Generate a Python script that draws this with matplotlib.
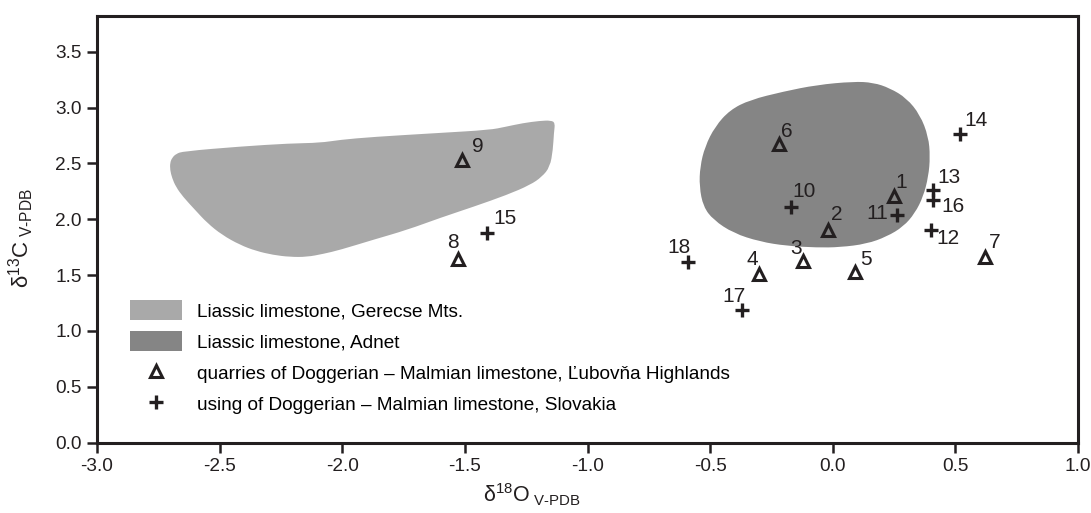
import matplotlib
matplotlib.use('Agg')
import matplotlib.pyplot as plt
from matplotlib.patches import PathPatch, Patch
from matplotlib.path import Path
from matplotlib.lines import Line2D

plt.rcParams['font.family'] = ['Liberation Sans', 'DejaVu Sans']
plt.rcParams['mathtext.fontset'] = 'custom'
plt.rcParams['mathtext.rm'] = 'Liberation Sans'
plt.rcParams['mathtext.it'] = 'Liberation Sans:italic'

# quarries (triangles), labels 1-9
tri_lbl = ['1', '2', '3', '4', '5', '6', '7', '8', '9']
tri_x = [0.25, -0.02, -0.12, -0.30, 0.09, -0.22, 0.62, -1.53, -1.51]
tri_y = [2.21, 1.90, 1.63, 1.51, 1.53, 2.67, 1.66, 1.64, 2.53]

# using (plus), labels 10-18
plus_lbl = ['10', '11', '12', '13', '14', '15', '16', '17', '18']
plus_x = [-0.17, 0.26, 0.40, 0.41, 0.52, -1.41, 0.41, -0.37, -0.59]
plus_y = [2.11, 2.04, 1.90, 2.26, 2.76, 1.88, 2.17, 1.19, 1.62]

# label offsets in pixels
tri_off = [(7, 13), (9, 16), (-7, 12), (-7, 14), (11, 12), (8, 13), (10, 15), (-5, 17), (15, 14)]
plus_off = [(13, 15), (-19, 1), (17, -8), (16, 13), (16, 14), (18, 14), (20, -6), (-8, 13), (-9, 14)]

# Gerecse field outline
ger_x = [-2.649, -2.678, -2.694, -2.702, -2.702, -2.694, -2.678, -2.649, -2.600, -2.551,
         -2.490, -2.417, -2.352, -2.282, -2.213, -2.144, -2.078, -2.009, -1.875, -1.736,
         -1.601, -1.467, -1.328, -1.234, -1.186, -1.153, -1.141, -1.137, -1.132, -1.149,
         -1.194, -1.263, -1.336, -1.398, -1.601, -1.875, -2.009, -2.091, -2.213, -2.417]
ger_y = [2.608, 2.585, 2.549, 2.505, 2.442, 2.370, 2.289, 2.200, 2.083, 1.967,
         1.859, 1.770, 1.716, 1.680, 1.662, 1.662, 1.689, 1.725, 1.815, 1.904,
         2.012, 2.110, 2.218, 2.307, 2.379, 2.469, 2.621, 2.773, 2.863, 2.885,
         2.881, 2.861, 2.827, 2.800, 2.773, 2.737, 2.711, 2.684, 2.679, 2.651]

# Adnet field outline
adn_x = [0.084, -0.065, -0.202, -0.337, -0.419, -0.480, -0.521, -0.541, -0.544, -0.528,
         -0.487, -0.405, -0.297, -0.188, -0.065, 0.030, 0.138, 0.220, 0.288, 0.335,
         0.369, 0.390, 0.397, 0.390, 0.356, 0.301, 0.233, 0.165]
adn_y = [3.233, 3.203, 3.143, 3.069, 2.979, 2.830, 2.651, 2.471, 2.292, 2.113,
         1.994, 1.875, 1.799, 1.761, 1.746, 1.749, 1.779, 1.844, 1.934, 2.054,
         2.203, 2.382, 2.561, 2.740, 2.935, 3.084, 3.174, 3.224]

light = '#a9a9a9'
dark = '#858585'
ink = '#231f20'


def smooth_blob(xs, ys):
    # closed outline drawn with quadratic curves through edge midpoints
    n = len(xs)
    mid = [((xs[i] + xs[(i + 1) % n]) / 2, (ys[i] + ys[(i + 1) % n]) / 2) for i in range(n)]
    verts = [mid[-1]]
    codes = [Path.MOVETO]
    for i in range(n):
        verts += [(xs[i], ys[i]), mid[i]]
        codes += [Path.CURVE3, Path.CURVE3]
    verts.append(mid[-1])
    codes.append(Path.CLOSEPOLY)
    return Path(verts, codes)


fig = plt.figure(figsize=(10.91, 5.13), dpi=100)
ax = fig.add_axes([0.0889, 0.1374, 0.8992, 0.8314])

ax.add_patch(PathPatch(smooth_blob(ger_x, ger_y), fc=light, ec='none', zorder=1))
ax.add_patch(PathPatch(smooth_blob(adn_x, adn_y), fc=dark, ec='none', zorder=1))

ax.plot(tri_x, tri_y, ls='none', marker='^', ms=9, mfc='none', mec=ink, mew=2.2, zorder=3)
ax.plot(plus_x, plus_y, ls='none', marker='+', ms=10, mec=ink, mew=2.4, zorder=3)

for lbl, x, y, off in zip(tri_lbl, tri_x, tri_y, tri_off):
    ax.annotate(lbl, (x, y), xytext=off, textcoords='offset pixels',
                ha='center', va='center', fontsize=15, color=ink)
for lbl, x, y, off in zip(plus_lbl, plus_x, plus_y, plus_off):
    ax.annotate(lbl, (x, y), xytext=off, textcoords='offset pixels',
                ha='center', va='center', fontsize=15, color=ink)

ax.set_xlim(-3.0, 1.0)
ax.set_ylim(0.0, 3.82)
ax.set_xticks([-3.0, -2.5, -2.0, -1.5, -1.0, -0.5, 0.0, 0.5, 1.0])
ax.set_yticks([0.0, 0.5, 1.0, 1.5, 2.0, 2.5, 3.0, 3.5])
ax.set_xticklabels(['-3.0', '-2.5', '-2.0', '-1.5', '-1.0', '-0.5', '0.0', '0.5', '1.0'])
ax.set_yticklabels(['0.0', '0.5', '1.0', '1.5', '2.0', '2.5', '3.0', '3.5'])
ax.tick_params(direction='out', length=7, width=1.8, labelsize=13.7, colors=ink, pad=4)
for s in ax.spines.values():
    s.set_linewidth(2.2)
    s.set_color(ink)

ax.set_ylabel('\u03b4$^{13}$C$_{\\ \\mathrm{V}\\text{-}\\mathrm{PDB}}$', fontsize=16, color=ink)
ax.yaxis.set_label_coords(-0.062, 0.48)
ax.set_xlabel('\u03b4$^{18}$O$_{\\ \\mathrm{V}\\text{-}\\mathrm{PDB}}$', fontsize=15.5, color=ink)
ax.xaxis.set_label_coords(0.443, -0.092)

handles = [Patch(fc=light, ec='none'), Patch(fc=dark, ec='none'),
           Line2D([], [], ls='none', marker='^', ms=9, mfc='none', mec=ink, mew=2.2),
           Line2D([], [], ls='none', marker='+', ms=10, mec=ink, mew=2.4)]
labels = ['Liassic limestone, Gerecse Mts.', 'Liassic limestone, Adnet',
          'quarries of Doggerian \u2013 Malmian limestone, \u013dubov\u0148a Highlands',
          'using of Doggerian \u2013 Malmian limestone, Slovakia']
ax.legend(handles, labels, loc='upper left', bbox_to_anchor=(0.0336, 0.334),
          bbox_transform=ax.transAxes, frameon=False, fontsize=13.7,
          handlelength=2.75, handleheight=1.2, handletextpad=0.75,
          labelspacing=0.58, borderpad=0, borderaxespad=0)

fig.savefig('out.png', dpi=100)
